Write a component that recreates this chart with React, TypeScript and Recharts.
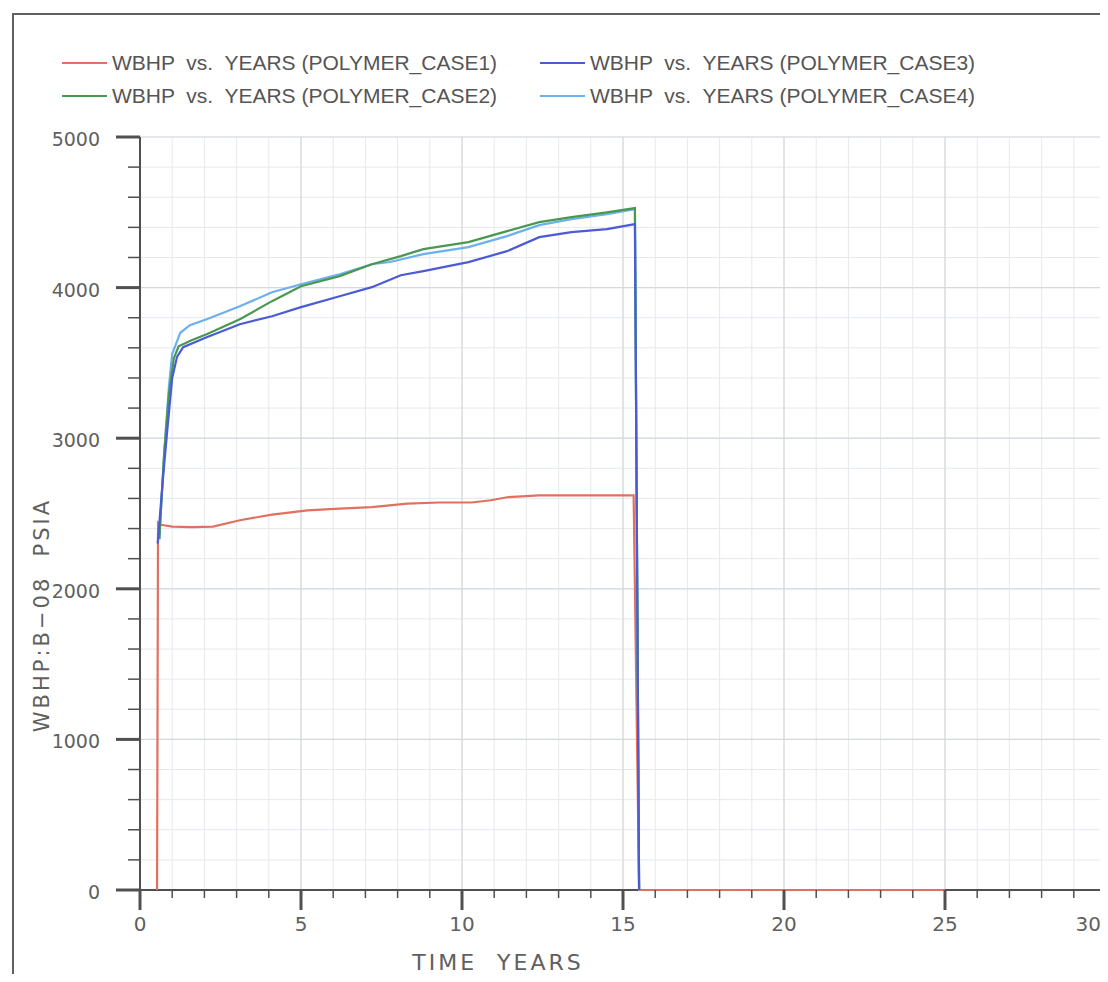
import React from "react";
import {
  LineChart,
  Line,
  XAxis,
  YAxis,
  CartesianGrid,
  ReferenceLine,
} from "recharts";

// axis ticks (minor every 1 year / 200 psia, labelled every 5 years / 1000 psia)
const xTicks = [
  0, 1, 2, 3, 4, 5, 6, 7, 8, 9, 10, 11, 12, 13, 14, 15, 16, 17, 18, 19, 20,
  21, 22, 23, 24, 25, 26, 27, 28, 29, 30,
];
const yTicks = [
  0, 200, 400, 600, 800, 1000, 1200, 1400, 1600, 1800, 2000, 2200, 2400, 2600,
  2800, 3000, 3200, 3400, 3600, 3800, 4000, 4200, 4400, 4600, 4800, 5000,
];
const xMajor = [5, 10, 15, 20, 25, 30];
const yMajor = [1000, 2000, 3000, 4000, 5000];

// POLYMER_CASE1
const case1Years = [
  0.53, 0.56, 0.65, 1.0, 1.6, 2.27, 3.1, 4.1, 5.2, 6.2, 7.2, 8.3, 9.3, 10.3,
  10.9, 11.4, 12.4, 13.5, 15.33, 15.5, 20, 25,
];
const case1Psi = [
  0, 2440, 2425, 2413, 2410, 2413, 2455, 2493, 2521, 2533, 2542, 2566, 2573,
  2573, 2588, 2608, 2620, 2620, 2620, 0, 0, 0,
];

// POLYMER_CASE2
const case2Years = [
  0.6, 0.75, 0.9, 1.05, 1.2, 1.6, 2.07, 3.1, 4.1, 5.0, 6.2, 7.2, 8.1, 8.8,
  10.2, 11.4, 12.4, 13.4, 14.5, 15.37, 15.5,
];
const case2Psi = [
  2330, 2900, 3300, 3530, 3610, 3650, 3690, 3790, 3910, 4009, 4076, 4155, 4209,
  4255, 4302, 4375, 4435, 4468, 4500, 4528, 0,
];

// POLYMER_CASE3
const case3Years = [
  0.55, 0.7, 0.85, 1.0, 1.15, 1.34, 2.07, 3.1, 4.1, 5.0, 6.2, 7.2, 8.1, 8.8,
  10.2, 11.4, 12.4, 13.4, 14.5, 15.37, 15.5,
];
const case3Psi = [
  2300, 2700, 3060, 3400, 3540, 3604, 3670, 3757, 3810, 3870, 3943, 4003, 4082,
  4109, 4169, 4242, 4335, 4368, 4388, 4422, 0,
];

// POLYMER_CASE4
const case4Years = [
  0.6, 0.75, 0.9, 1.0, 1.09, 1.25, 1.55, 2.07, 3.1, 4.1, 5.0, 6.2, 7.2, 7.76,
  8.8, 10.2, 11.4, 12.4, 13.4, 14.5, 15.37, 15.5,
];
const case4Psi = [
  2330, 2900, 3350, 3560, 3610, 3700, 3750, 3790, 3876, 3969, 4022, 4089, 4155,
  4170, 4222, 4269, 4342, 4415, 4455, 4488, 4521, 0,
];

const toPoints = (years: number[], psi: number[]) =>
  years.map((x, i) => ({ x, y: psi[i] }));

const series = [
  { id: "case1", name: "WBHP  vs.  YEARS (POLYMER_CASE1)", color: "#e2705f", data: toPoints(case1Years, case1Psi) },
  { id: "case2", name: "WBHP  vs.  YEARS (POLYMER_CASE2)", color: "#4a9850", data: toPoints(case2Years, case2Psi) },
  { id: "case3", name: "WBHP  vs.  YEARS (POLYMER_CASE3)", color: "#4b5bd6", data: toPoints(case3Years, case3Psi) },
  { id: "case4", name: "WBHP  vs.  YEARS (POLYMER_CASE4)", color: "#6cb0ee", data: toPoints(case4Years, case4Psi) },
];

// draw order: light blue under green, dark blue on top
const drawOrder = ["case1", "case4", "case2", "case3"];

const axisColor = "#505050";
const labelFont = "'DejaVu Sans', sans-serif";

const XTick = (props: any) => {
  const { x, y, payload } = props;
  const major = payload.value % 5 === 0;
  const last = payload.value === 30;
  return (
    <g>
      <line
        x1={x}
        x2={x}
        y1={y}
        y2={y + (major ? 20 : 8)}
        stroke={axisColor}
        strokeWidth={major ? 3 : 1.5}
      />
      {major && (
        <text
          x={last ? x - 5 : x}
          y={y + 41}
          textAnchor={last ? "end" : "middle"}
          fontFamily={labelFont}
          fontSize={20}
          fill="#606060"
        >
          {payload.value}
        </text>
      )}
    </g>
  );
};

const YTick = (props: any) => {
  const { x, y, payload } = props;
  const major = payload.value % 1000 === 0;
  return (
    <g>
      <line
        x1={x - (major ? 24 : 12)}
        x2={x}
        y1={y}
        y2={y}
        stroke={axisColor}
        strokeWidth={major ? 3 : 1.5}
      />
      {major && (
        <text
          x={x - 40}
          y={y + 9}
          textAnchor="end"
          fontFamily={labelFont}
          fontSize={19}
          fill="#606060"
        >
          {payload.value}
        </text>
      )}
    </g>
  );
};

const App: React.FC = () => {
  const ordered = drawOrder.map((id) => series.find((s) => s.id === id)!);
  const legendOrder = ["case1", "case2", "case3", "case4"].map(
    (id) => series.find((s) => s.id === id)!
  );

  return (
    <div
      style={{
        position: "relative",
        width: 1100,
        height: 966,
        overflow: "hidden",
        background: "#fff",
      }}
    >
      {/* outer frame */}
      <div
        style={{
          position: "absolute",
          left: 4,
          top: 5,
          right: -10,
          bottom: -10,
          borderLeft: "2px solid #606060",
          borderTop: "2px solid #606060",
        }}
      />

      {/* legend */}
      <div
        style={{
          position: "absolute",
          left: 54,
          top: 38,
          display: "grid",
          gridTemplateRows: "33px 33px",
          gridTemplateColumns: "478px 478px",
          gridAutoFlow: "column",
          fontFamily: "'Liberation Sans', Arial, sans-serif",
          fontSize: 21,
          color: "#555",
        }}
      >
        {legendOrder.map((s) => (
          <div key={s.id} style={{ display: "flex", alignItems: "center" }}>
            <span
              style={{
                display: "inline-block",
                width: 45,
                height: 2,
                background: s.color,
                marginRight: 5,
              }}
            />
            <span style={{ whiteSpace: "pre" }}>{s.name}</span>
          </div>
        ))}
      </div>

      <div style={{ position: "absolute", left: 0, top: 0 }}>
        <LineChart
          width={1100}
          height={966}
          margin={{ top: 129, right: 2, bottom: 0, left: 0 }}
        >
          <CartesianGrid stroke="#e5e8ed" strokeWidth={1} />
          {xMajor.map((v) => (
            <ReferenceLine key={"x" + v} x={v} stroke="#d5d9df" strokeWidth={1.2} />
          ))}
          {yMajor.map((v) => (
            <ReferenceLine key={"y" + v} y={v} stroke="#d5d9df" strokeWidth={1.2} />
          ))}
          {/* x axis line drawn as a reference line so the series sit on top of it */}
          <ReferenceLine y={0} stroke={axisColor} strokeWidth={2} />
          <XAxis
            type="number"
            dataKey="x"
            domain={[0, 30]}
            ticks={xTicks}
            interval={0}
            height={84}
            tickSize={0}
            tickMargin={0}
            tick={<XTick />}
            axisLine={false}
          />
          <YAxis
            type="number"
            dataKey="y"
            domain={[0, 5000]}
            ticks={yTicks}
            interval={0}
            width={132}
            tickSize={0}
            tickMargin={0}
            tick={<YTick />}
            axisLine={{ stroke: axisColor, strokeWidth: 2 }}
          />
          {ordered.map((s) => (
            <Line
              key={s.id}
              data={s.data}
              dataKey="y"
              name={s.name}
              type="linear"
              stroke={s.color}
              strokeWidth={2.2}
              dot={false}
              activeDot={false}
              isAnimationActive={false}
            />
          ))}
        </LineChart>
      </div>

      {/* axis titles */}
      <svg
        width={1100}
        height={966}
        style={{ position: "absolute", left: 0, top: 0, pointerEvents: "none" }}
      >
        <text
          transform="translate(33,607) rotate(-90)"
          textAnchor="middle"
          dy="0.36em"
          fontFamily={labelFont}
          fontSize={21}
          letterSpacing={3}
          fill="#606060"
          style={{ whiteSpace: "pre" }}
        >
          WBHP:B−08  PSIA
        </text>
        <text
          x={490}
          y={962}
          textAnchor="middle"
          fontFamily={labelFont}
          fontSize={22}
          letterSpacing={3}
          fill="#606060"
          style={{ whiteSpace: "pre" }}
        >
          TIME  YEARS
        </text>
      </svg>
    </div>
  );
};

export default App;
